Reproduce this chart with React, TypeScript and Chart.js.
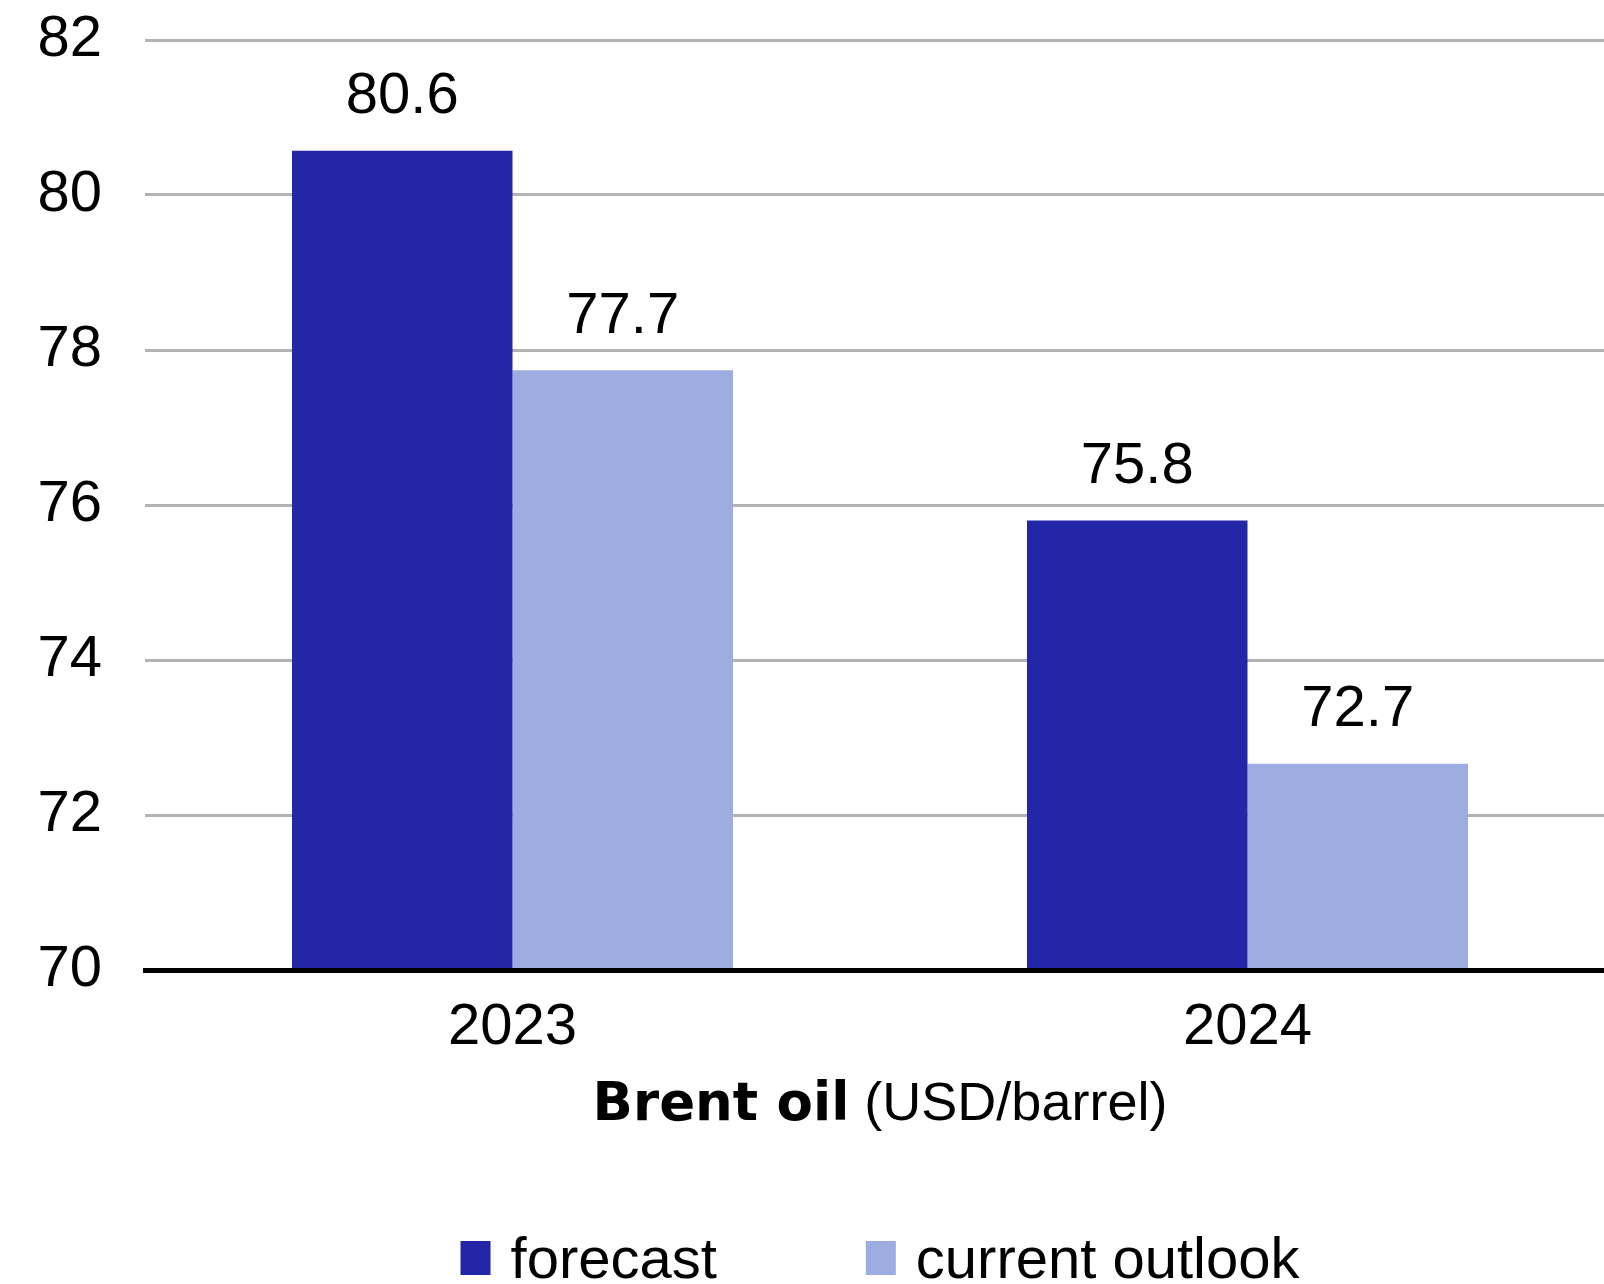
import React, { useEffect, useRef } from 'react';
import { Chart, registerables } from 'chart.js';

Chart.register(...registerables);

// ---- data ----
const categories = ['2023', '2024'];
const forecast = [80.57, 75.8];
const currentOutlook = [77.74, 72.66];
const seriesNames = ['forecast', 'current outlook'];
const yMin = 70;
const yMax = 82;
const yStep = 2;
const titleBold = 'Brent oil';
const titleRest = ' (USD/barrel)';

// ---- style ----
const DARK = '#2426a8';
const LIGHT = '#9eade1';
const GRID = '#b3b3b3';
const SANS = '"Liberation Sans", Arial, Helvetica, sans-serif';
const BOLD = '"DejaVu Sans", Verdana, sans-serif';
const W = 1620;
const H = 1284;

const valueLabels = {
  id: 'valueLabels',
  afterDatasetsDraw(chart: any) {
    const ctx = chart.ctx;
    ctx.save();
    ctx.font = `58px ${SANS}`;
    ctx.fillStyle = '#000';
    ctx.textAlign = 'center';
    ctx.textBaseline = 'alphabetic';
    chart.data.datasets.forEach((ds: any, i: number) => {
      const meta = chart.getDatasetMeta(i);
      meta.data.forEach((bar: any, j: number) => {
        ctx.fillText(Number(ds.data[j]).toFixed(1), bar.x, bar.y - 37.5);
      });
    });
    ctx.restore();
  },
};

const titleAndLegend = {
  id: 'titleAndLegend',
  afterDraw(chart: any) {
    const ctx = chart.ctx;
    const area = chart.chartArea;
    const cx = (area.left + area.right) / 2;
    ctx.save();
    ctx.fillStyle = '#000';
    ctx.textBaseline = 'alphabetic';
    ctx.textAlign = 'left';
    // axis title
    ctx.font = `bold 53px ${BOLD}`;
    const w1 = ctx.measureText(titleBold).width;
    ctx.font = `54px ${SANS}`;
    const w2 = ctx.measureText(titleRest).width;
    let x = cx - (w1 + w2) / 2;
    ctx.font = `bold 53px ${BOLD}`;
    ctx.fillText(titleBold, x, 1120);
    ctx.font = `54px ${SANS}`;
    ctx.fillText(titleRest, x + w1, 1120);

    // legend
    const boxW = 30;
    const boxH = 34;
    const gap = 20;
    const itemGap = 149;
    ctx.font = `58px ${SANS}`;
    const widths = chart.data.datasets.map((ds: any) => ctx.measureText(ds.label).width);
    let total = 0;
    widths.forEach((w: number, i: number) => {
      total += boxW + gap + w + (i < widths.length - 1 ? itemGap : 0);
    });
    x = cx - total / 2;
    chart.data.datasets.forEach((ds: any, i: number) => {
      ctx.fillStyle = ds.backgroundColor;
      ctx.fillRect(x, 1241, boxW, boxH);
      ctx.fillStyle = '#000';
      ctx.fillText(ds.label, x + boxW + gap, 1278);
      x += boxW + gap + widths[i] + itemGap;
    });
    ctx.restore();
  },
};

export default function App() {
  const ref = useRef<HTMLCanvasElement>(null);

  useEffect(() => {
    if (!ref.current) return;
    const chart = new Chart(ref.current, {
      type: 'bar',
      data: {
        labels: categories,
        datasets: [
          {
            label: seriesNames[0],
            data: forecast,
            backgroundColor: DARK,
            borderWidth: 0,
            categoryPercentage: 0.6,
            barPercentage: 1.0,
          },
          {
            label: seriesNames[1],
            data: currentOutlook,
            backgroundColor: LIGHT,
            borderWidth: 0,
            categoryPercentage: 0.6,
            barPercentage: 1.0,
          },
        ],
      },
      options: {
        responsive: false,
        animation: false,
        devicePixelRatio: 1,
        layout: { padding: { top: 40, right: 5, bottom: 0, left: 0 } },
        plugins: {
          legend: { display: false },
          tooltip: { enabled: false },
          title: { display: false },
        },
        scales: {
          x: {
            grid: { display: false },
            border: { display: true, color: '#000', width: 5, z: 1 },
            ticks: {
              color: '#000',
              font: { family: SANS, size: 58, lineHeight: 1.2 },
              padding: 15,
              maxRotation: 0,
            },
            afterFit: (s: any) => {
              s.height = 314;
              s.paddingLeft = 0;
              s.paddingRight = 0;
            },
          },
          y: {
            min: yMin,
            max: yMax,
            border: { display: false },
            grid: {
              drawTicks: false,
              color: (c: any) => (c.tick && c.tick.value === yMin ? 'rgba(0,0,0,0)' : GRID),
              lineWidth: 3,
            },
            ticks: {
              stepSize: yStep,
              color: '#000',
              font: { family: SANS, size: 58 },
              padding: 43,
            },
            afterFit: (s: any) => {
              s.width = 145;
              s.paddingTop = 0;
              s.paddingBottom = 0;
            },
          },
        },
      },
      plugins: [valueLabels, titleAndLegend],
    });
    return () => chart.destroy();
  }, []);

  return (
    <div
      style={{
        position: 'absolute',
        left: 0,
        top: 0,
        width: 1604,
        height: 1284,
        overflow: 'hidden',
        background: '#fff',
      }}
    >
      <canvas ref={ref} width={W} height={H} style={{ display: 'block', width: W, height: H }} />
    </div>
  );
}
